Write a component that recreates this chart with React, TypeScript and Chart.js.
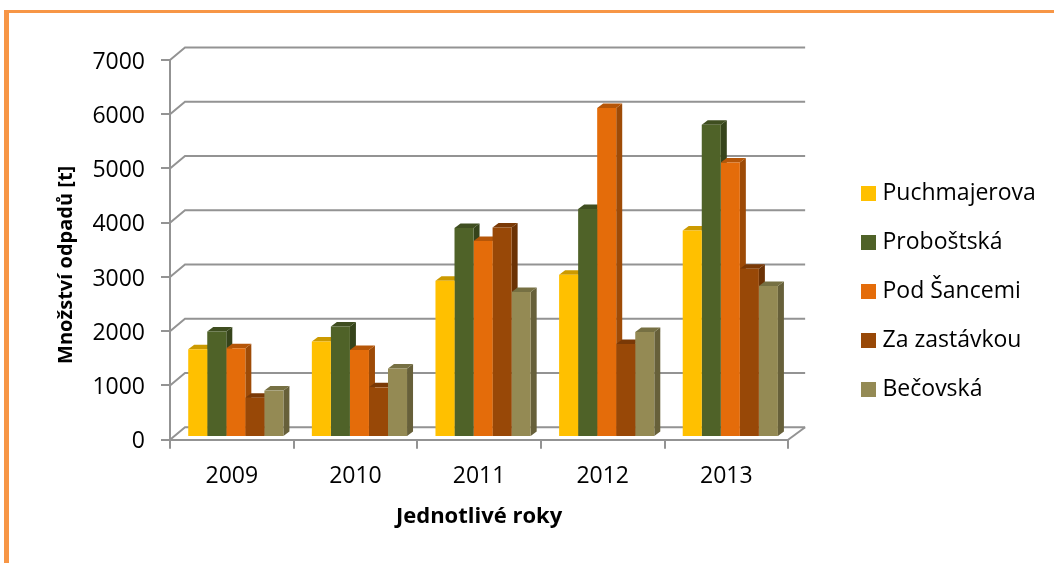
import React, { useEffect, useRef } from "react";
import { Chart, registerables } from "chart.js";

Chart.register(...registerables);

const years = ["2009", "2010", "2011", "2012", "2013"];
const puchmajerova = [1620, 1760, 2880, 2990, 3805];
const probostska = [1945, 2035, 3855, 4205, 5755];
const podSancemi = [1635, 1605, 3615, 6065, 5060];
const zaZastavkou = [725, 915, 3860, 1715, 3100];
const becovska = [855, 1265, 2675, 1935, 2785];
const seriesNames = ["Puchmajerova", "Proboštská", "Pod Šancemi", "Za zastávkou", "Bečovská"];
const seriesValues = [puchmajerova, probostska, podSancemi, zaZastavkou, becovska];
const frontColors = ["#FFC000", "#4F6228", "#E46C0A", "#984807", "#948A54"];
const sideColors = ["#B38600", "#36441B", "#9E4B07", "#6B3205", "#67603A"];
const topColors = ["#CC9A00", "#3F4E20", "#B65608", "#7A3906", "#767043"];

const FONT = "'Open Sans', sans-serif";
const GRID = "#939393";

function legendSwatch(color: string) {
  const c = document.createElement("canvas");
  c.width = 15;
  c.height = 15;
  const g = c.getContext("2d") as CanvasRenderingContext2D;
  g.fillStyle = color;
  g.fillRect(0, 0, 15, 15);
  return c;
}

const bars3d = {
  id: "bars3d",
  afterLayout(chart: any) {
    const legend = chart.legend;
    legend.left = 840;
    legend.right = 1054;
    legend.top = 156;
    legend.bottom = 563;
    const yScale = chart.scales.y;
    if (!yScale.__shifted) {
      const orig = yScale.drawTitle;
      yScale.drawTitle = function (...a: any[]) {
        const c = this.ctx;
        c.save();
        c.translate(0, 15);
        orig.apply(this, a);
        c.restore();
      };
      yScale.__shifted = true;
    }
  },
  beforeDatasetsDraw(chart: any) {
    const { ctx, chartArea, scales } = chart;
    const y = scales.y;
    ctx.save();
    ctx.strokeStyle = GRID;
    ctx.lineWidth = 2;
    const backX = chartArea.left + 15;
    const endX = chartArea.right + 17;
    const dy = 12.5;
    y.ticks.forEach((t: any) => {
      const py = y.getPixelForValue(t.value);
      ctx.beginPath();
      ctx.moveTo(chartArea.left, py);
      ctx.lineTo(backX, py - dy);
      ctx.lineTo(endX, py - dy);
      ctx.stroke();
    });
    const floor = y.getPixelForValue(0);
    ctx.beginPath();
    ctx.moveTo(chartArea.right, floor);
    ctx.lineTo(endX, floor - dy);
    ctx.stroke();
    ctx.restore();

    // Depth faces go first, left to right; the flat fronts are then painted over them.
    ctx.save();
    ctx.translate(4, -2.7);
    const dx = 6;
    const dz = 4.5;
    seriesNames.forEach((_, i) => {
      chart.getDatasetMeta(i).data.forEach((el: any) => {
        const x2 = el.x + el.width / 2;
        const x1 = el.x - el.width / 2;
        ctx.fillStyle = sideColors[i];
        ctx.beginPath();
        ctx.moveTo(x2, el.y);
        ctx.lineTo(x2 + dx, el.y - dz);
        ctx.lineTo(x2 + dx, el.base - dz);
        ctx.lineTo(x2, el.base);
        ctx.closePath();
        ctx.fill();
        ctx.fillStyle = topColors[i];
        ctx.beginPath();
        ctx.moveTo(x1, el.y);
        ctx.lineTo(x1 + dx, el.y - dz);
        ctx.lineTo(x2 + dx, el.y - dz);
        ctx.lineTo(x2, el.y);
        ctx.closePath();
        ctx.fill();
      });
    });
    ctx.restore();
  },
  beforeDatasetDraw(chart: any) {
    chart.ctx.save();
    chart.ctx.translate(4, -2.7);
  },
  afterDatasetDraw(chart: any) {
    chart.ctx.restore();
  },
};

export default function App() {
  const ref = useRef<HTMLCanvasElement>(null);
  useEffect(() => {
    const chart = new Chart(ref.current as HTMLCanvasElement, {
      type: "bar",
      data: {
        labels: years,
        datasets: seriesNames.map((name, i) => ({
          label: name,
          data: seriesValues[i],
          backgroundColor: frontColors[i],
          borderWidth: 0,
          categoryPercentage: 0.77,
          barPercentage: 1,
          clip: false as any,
          pointStyle: legendSwatch(frontColors[i]) as any,
        })),
      },
      plugins: [bars3d],
      options: {
        animation: false,
        responsive: false,
        layout: { padding: { top: 60, right: 60, bottom: 0, left: 0 } },
        plugins: {
          tooltip: { enabled: false },
          legend: {
            position: "right",
            align: "start",
            labels: {
              usePointStyle: true,
              boxWidth: 5,
              boxHeight: 15,
              padding: 26,
              color: "#000",
              font: { family: FONT, size: 23 },
            },
          },
        },
        scales: {
          x: {
            afterFit: (s: any) => {
              s.height = 123.3;
            },
            border: { color: GRID, width: 2 },
            grid: { offset: true, drawOnChartArea: false, color: GRID, lineWidth: 2, tickLength: 9 },
            ticks: { color: "#000", padding: 14, font: { family: FONT, size: 23 } },
            title: {
              display: true,
              text: "Jednotlivé roky",
              color: "#000",
              font: { family: FONT, size: 22, weight: "bold" },
              padding: { top: 0, bottom: 33 },
            },
          },
          y: {
            min: 0,
            max: 7000,
            afterFit: (s: any) => {
              s.width = 170;
            },
            border: { color: GRID, width: 2 },
            grid: { drawOnChartArea: false, color: GRID, lineWidth: 2, tickLength: 9 },
            ticks: {
              stepSize: 1000,
              color: "#000",
              padding: 16,
              labelOffset: 2,
              font: { family: FONT, size: 23 },
              callback: (v: any) => String(v),
            },
            title: {
              display: true,
              text: "Množství odpadů [t]",
              color: "#000",
              font: { family: FONT, size: 20, weight: "bold" },
              padding: { top: 54, bottom: 0 },
            },
          },
        },
      },
    });
    return () => chart.destroy();
  }, []);
  return (
    <div style={{ position: "fixed", inset: 0, background: "#fff", overflow: "hidden" }}>
      <div
        style={{
          position: "absolute",
          left: 4,
          top: 10,
          right: 0,
          bottom: 0,
          borderLeft: "5px solid #F79646",
          borderTop: "3px solid #F79646",
        }}
      />
      <canvas
        ref={ref}
        width={1054}
        height={563}
        style={{ position: "absolute", left: 0, top: 0, display: "block" }}
      />
    </div>
  );
}
